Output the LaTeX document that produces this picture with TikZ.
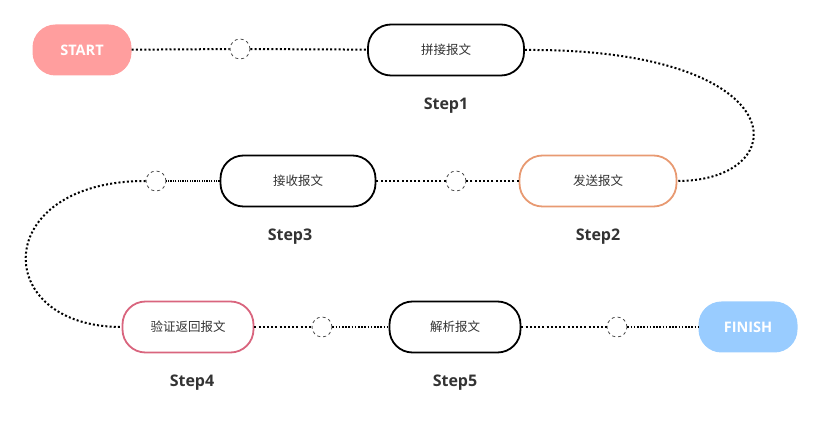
\documentclass[tikz,border=0pt]{standalone}
\usepackage{fontspec}
\setmainfont{Open Sans}
\newfontfamily\cjk{Noto Sans CJK SC}
\usetikzlibrary{calc}
\definecolor{startred}{HTML}{FF9E9E}
\definecolor{finishblue}{HTML}{99CCFF}
\definecolor{sendorange}{HTML}{E89A72}
\definecolor{checkred}{HTML}{D9657E}
\definecolor{textgray}{HTML}{333333}
\newcommand{\cjktext}{\cjk\fontsize{12.5}{14}\selectfont}
\tikzset{
  stepbox/.style={draw, line width=1.8pt, rounded corners=23pt, minimum height=51pt, fill=white, text=textgray, font=\cjktext},
  endbox/.style={rounded corners=23pt, minimum width=99pt, minimum height=51pt, text=white, font=\bfseries\fontsize{14.5}{16}\selectfont},
  gap/.style={circle, draw=black!70, dashed, line width=0.8pt, fill=white, minimum size=20pt, inner sep=0pt},
  steplabel/.style={text=textgray, font=\bfseries\fontsize{16}{18}\selectfont},
  dotline/.style={line width=2pt, dash pattern=on 2pt off 2.2pt}
}
\begin{document}
\begin{tikzpicture}[x=1pt, y=-1pt]
\useasboundingbox (0,0) rectangle (823,427);
% row 1
\node[endbox, fill=startred] (start) at (82,50) {START};
\node[gap] (g1) at (240,49) {};
\node[stepbox, minimum width=156pt] (s1) at (446,50) {拼接报文};
\node[steplabel] (l1) at (446,106) {Step1};
% row 2
\node[stepbox, draw=sendorange, minimum width=157pt] (s2) at (598,181) {发送报文};
\node[steplabel] (l2) at (598,237) {Step2};
\node[gap] (g2) at (456,181) {};
\node[stepbox, minimum width=155pt] (s3) at (298,181) {接收报文};
\node[steplabel] (l3) at (290,237) {Step3};
\node[gap] (g3) at (156,181) {};
% row 3
\node[stepbox, draw=checkred, minimum width=131pt] (s4) at (188,327) {验证返回报文};
\node[steplabel] (l4) at (192,383) {Step4};
\node[gap] (g4) at (322,327) {};
\node[stepbox, minimum width=131pt] (s5) at (455,327) {解析报文};
\node[steplabel] (l5) at (455,383) {Step5};
\node[gap] (g5) at (617,327) {};
\node[endbox, fill=finishblue] (finish) at (748,327) {FINISH};
% connectors
\draw[dotline] (start) -- (g1) -- (s1);
\draw[dotline] (s1.east) .. controls (797,48) and (797,181) .. (s2.east);
\draw[dotline] (s2) -- (g2) -- (s3);
\draw[dotline, dash pattern=on 1.2pt off 1.2pt, line width=1.4pt] (s3) -- (g3);
\draw[dotline] (g3.west) .. controls (-10,181) and (-10,327) .. (s4.west);
\draw[dotline] (s4) -- (g4);
\draw[dotline, dash pattern=on 1.6pt off 1.6pt] (g4) -- (s5);
\draw[dotline] (s5) -- (g5);
\draw[dotline, dash pattern=on 1.6pt off 1.6pt] (g5) -- (finish);
\end{tikzpicture}
\end{document}
